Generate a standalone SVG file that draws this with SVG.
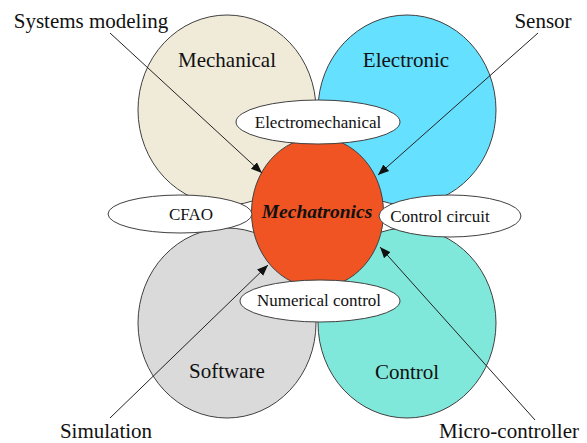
<svg xmlns="http://www.w3.org/2000/svg" width="587" height="443" viewBox="0 0 587 443">
  <style>
    .domain { stroke: #404040; stroke-width: 1; }
    .sub { fill: #ffffff; stroke: #404040; stroke-width: 1; }
    text { font-family: "Liberation Serif", "Times New Roman", serif; fill: #111111; text-anchor: middle; }
    .big { font-size: 21px; }
    .small { font-size: 17px; }
    .core { font-size: 19.5px; font-weight: bold; font-style: italic; }
    .link { stroke: #222222; stroke-width: 1; fill: none; marker-end: url(#arrow); }
  </style>
  <defs>
    <marker id="arrow" viewBox="0 0 10 10" refX="10" refY="5" markerWidth="11" markerHeight="11" markerUnits="userSpaceOnUse" orient="auto">
      <path d="M0,1 L10,5 L0,9 Z" fill="#111111"/>
    </marker>
  </defs>

  <rect width="587" height="443" fill="#ffffff"/>

  <!-- four domain ellipses -->
  <g id="mechanical">
    <ellipse class="domain" cx="227" cy="110" rx="89" ry="95" fill="#F0EBD9"/>
    <text class="big" x="227" y="67">Mechanical</text>
  </g>
  <g id="electronic">
    <ellipse class="domain" cx="407" cy="110" rx="89" ry="95" fill="#66E0FF"/>
    <text class="big" x="406" y="67">Electronic</text>
  </g>
  <g id="software">
    <ellipse class="domain" cx="227" cy="323" rx="89" ry="95" fill="#DADADA"/>
    <text class="big" x="227" y="378">Software</text>
  </g>
  <g id="control">
    <ellipse class="domain" cx="407" cy="323" rx="89" ry="95" fill="#80E8DA"/>
    <text class="big" x="407" y="379">Control</text>
  </g>

  <!-- core -->
  <g id="mechatronics">
    <ellipse class="domain" cx="317.5" cy="212.5" rx="66" ry="75" fill="#F05423"/>
    <text class="core" x="317" y="218">Mechatronics</text>
  </g>

  <!-- intersection labels -->
  <g id="electromechanical">
    <ellipse class="sub" cx="318" cy="122" rx="82" ry="22"/>
    <text class="small" x="318" y="128">Electromechanical</text>
  </g>
  <g id="cfao">
    <ellipse class="sub" cx="180" cy="214" rx="72" ry="19"/>
    <text class="small" x="191" y="220">CFAO</text>
  </g>
  <g id="control-circuit">
    <ellipse class="sub" cx="450" cy="216" rx="71" ry="21"/>
    <text class="small" x="440" y="222">Control circuit</text>
  </g>
  <g id="numerical-control">
    <ellipse class="sub" cx="320" cy="301" rx="80" ry="21"/>
    <text class="small" x="319" y="306">Numerical control</text>
  </g>

  <!-- corner labels -->
  <g id="systems-modeling"><text class="big" x="91" y="28">Systems modeling</text></g>
  <g id="sensor"><text class="big" x="543" y="28">Sensor</text></g>
  <g id="simulation"><text class="big" x="106" y="438">Simulation</text></g>
  <g id="micro-controller"><text class="big" x="509" y="438">Micro-controller</text></g>

  <!-- connectors -->
  <g id="connectors">
    <line class="link" x1="110" y1="33" x2="262" y2="173"/>
    <line class="link" x1="538" y1="33" x2="378" y2="175"/>
    <line class="link" x1="110" y1="418" x2="268" y2="265"/>
    <line class="link" x1="535" y1="420" x2="380" y2="247"/>
  </g>
</svg>
